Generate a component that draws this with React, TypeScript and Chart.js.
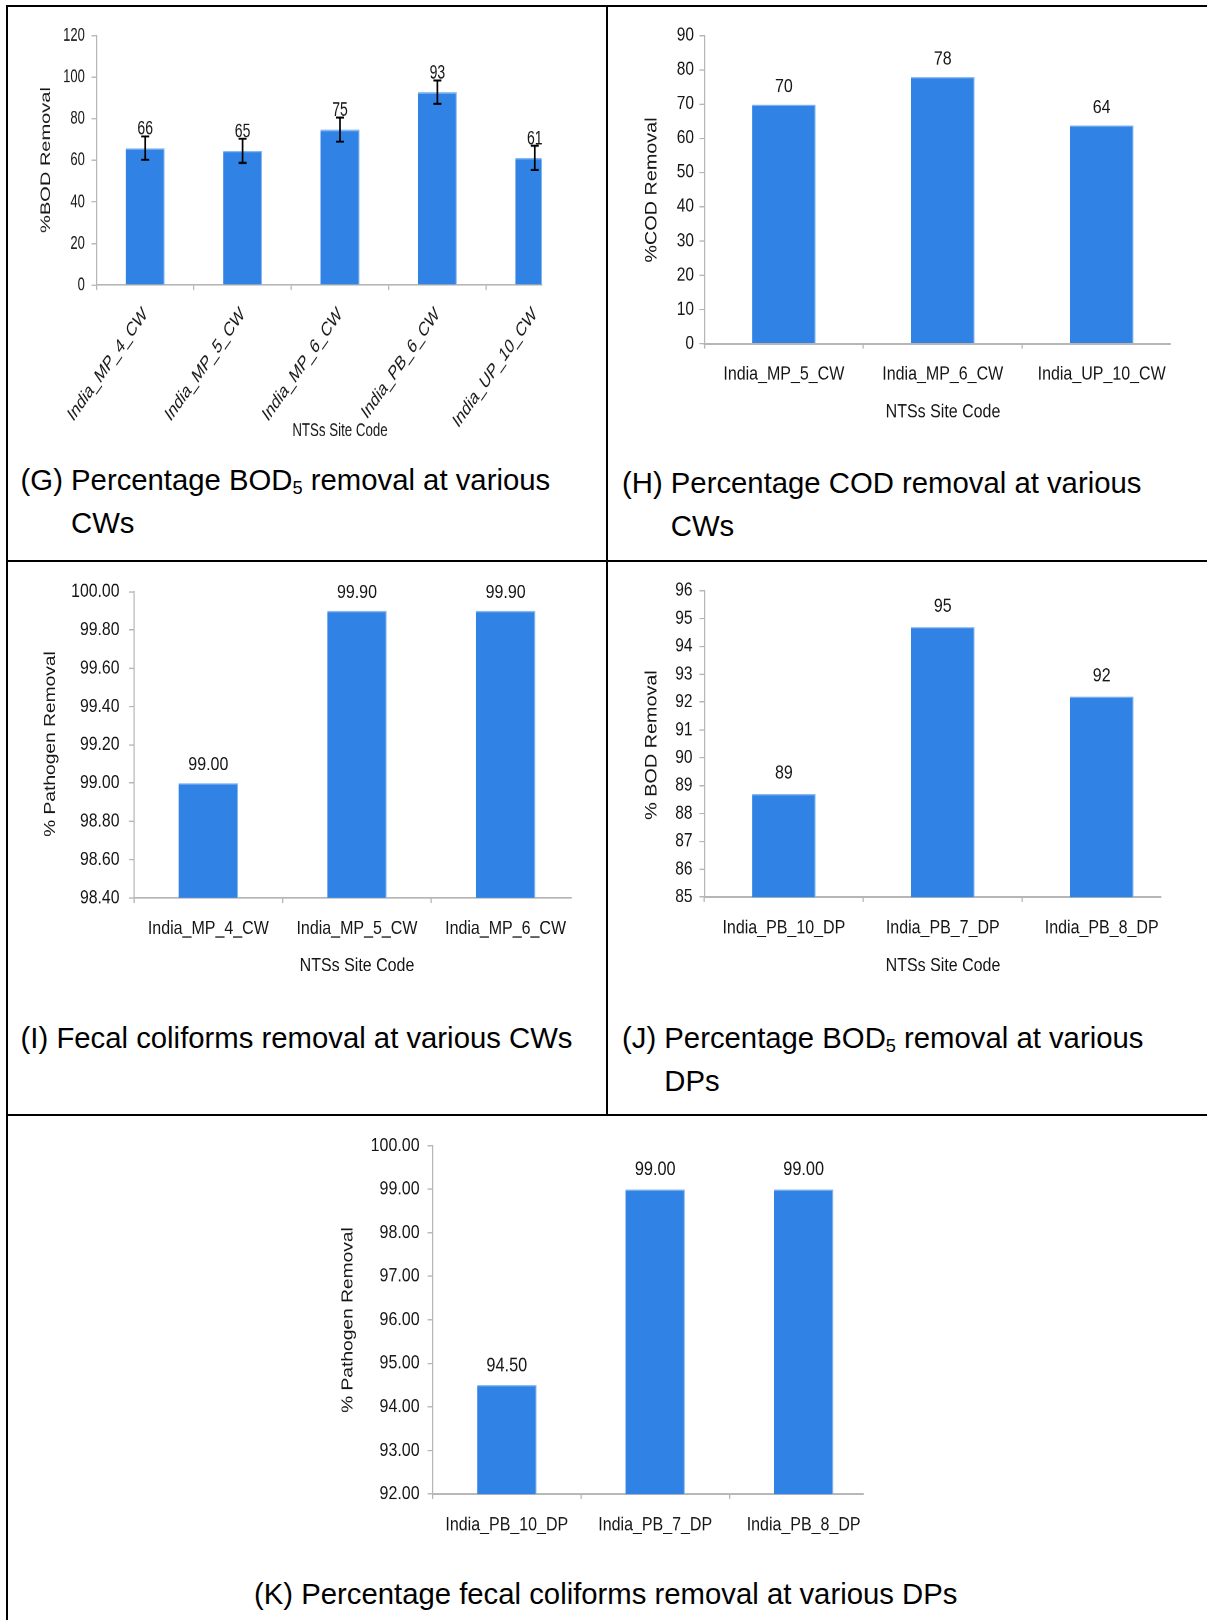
import React, { useEffect, useRef } from 'react';
import { Chart, registerables } from 'chart.js';

Chart.register(...registerables);

const FONT = "'Liberation Sans', Arial, Helvetica, sans-serif";
Chart.defaults.font.family = FONT;

const BAR_COLOR = '#3182E5';
const BAR_EDGE = '#86B7F1';
const AXIS_COLOR = '#B6B6B6';
const TEXT_COLOR = '#161616';

// ---------- (G) Percentage BOD5 removal at various CWs ----------
const G_CATEGORIES = ['India_MP_4_CW', 'India_MP_5_CW', 'India_MP_6_CW', 'India_PB_6_CW', 'India_UP_10_CW'];
const G_VALUES = [65.9, 64.6, 74.8, 92.8, 61.2];
const G_ERRORS = [5.6, 5.8, 5.8, 5.6, 5.8];
const G_Y_TICKS = [0, 20, 40, 60, 80, 100, 120];

// ---------- (H) Percentage COD removal at various CWs ----------
const H_CATEGORIES = ['India_MP_5_CW', 'India_MP_6_CW', 'India_UP_10_CW'];
const H_VALUES = [69.9, 77.9, 63.8];
const H_Y_TICKS = [0, 10, 20, 30, 40, 50, 60, 70, 80, 90];

// ---------- (I) Fecal coliforms removal at various CWs ----------
const I_CATEGORIES = ['India_MP_4_CW', 'India_MP_5_CW', 'India_MP_6_CW'];
const I_VALUES = [99.0, 99.9, 99.9];
const I_Y_TICKS = [98.4, 98.6, 98.8, 99.0, 99.2, 99.4, 99.6, 99.8, 100.0];

// ---------- (J) Percentage BOD5 removal at various DPs ----------
const J_CATEGORIES = ['India_PB_10_DP', 'India_PB_7_DP', 'India_PB_8_DP'];
const J_VALUES = [88.7, 94.7, 92.2];
const J_Y_TICKS = [85, 86, 87, 88, 89, 90, 91, 92, 93, 94, 95, 96];

// ---------- (K) Percentage fecal coliforms removal at various DPs ----------
const K_CATEGORIES = ['India_PB_10_DP', 'India_PB_7_DP', 'India_PB_8_DP'];
const K_VALUES = [94.5, 99.0, 99.0];
const K_Y_TICKS = [92, 93, 94, 95, 96, 97, 98, 99, 100];

type TitleSpec = { text: string; x: number; y: number; size: number };

type Spec = {
  id: string;
  cats: string[];
  values: number[];
  errors?: number[];
  yTicks: number[];
  tickDecimals: number;
  labelDecimals: number;
  k: number; // vertical stretch of the embedded chart picture
  box: { left: number; top: number; width: number; height: number };
  area: { l: number; t: number; r: number; b: number };
  xMax: number;
  yTickSize: number;
  yTickPad: number;
  xLabelSize: number;
  xLabelPad: number;
  xRotation: number;
  valueSize: number;
  valueOffset: number;
  yTitle: TitleSpec;
  xTitle?: TitleSpec;
};

const SPECS: Spec[] = [
  {
    id: 'G', cats: G_CATEGORIES, values: G_VALUES, errors: G_ERRORS, yTicks: G_Y_TICKS,
    tickDecimals: 0, labelDecimals: 0, k: 1.43,
    box: { left: 10, top: 10, width: 594, height: 440 },
    area: { l: 96.5, t: 35.7, r: 541.6, b: 285 },
    xMax: 4.07, yTickSize: 13, yTickPad: 6.7, xLabelSize: 14, xLabelPad: 9, xRotation: 45,
    valueSize: 14, valueOffset: 19,
    yTitle: { text: '%BOD Removal', x: 46, y: 160, size: 14 },
    xTitle: { text: 'NTSs Site Code', x: 340, y: 431, size: 13.3 },
  },
  {
    id: 'H', cats: H_CATEGORIES, values: H_VALUES, yTicks: H_Y_TICKS,
    tickDecimals: 0, labelDecimals: 0, k: 1.2,
    box: { left: 610, top: 10, width: 594, height: 440 },
    area: { l: 704.4, t: 35.7, r: 1170, b: 343.6 },
    xMax: 2.43, yTickSize: 15.5, yTickPad: 5.4, xLabelSize: 16, xLabelPad: 12, xRotation: 0,
    valueSize: 16, valueOffset: 17.6,
    yTitle: { text: '%COD Removal', x: 652, y: 190, size: 16.5 },
    xTitle: { text: 'NTSs Site Code', x: 943, y: 412, size: 16 },
  },
  {
    id: 'I', cats: I_CATEGORIES, values: I_VALUES, yTicks: I_Y_TICKS,
    tickDecimals: 2, labelDecimals: 2, k: 1.2,
    box: { left: 10, top: 565, width: 594, height: 440 },
    area: { l: 134, t: 591.8, r: 571, b: 897.9 },
    xMax: 2.44, yTickSize: 15.8, yTickPad: 9.5, xLabelSize: 16, xLabelPad: 12, xRotation: 0,
    valueSize: 16, valueOffset: 18.5,
    yTitle: { text: '% Pathogen Removal', x: 50.6, y: 744, size: 16 },
    xTitle: { text: 'NTSs Site Code', x: 357, y: 966, size: 16 },
  },
  {
    id: 'J', cats: J_CATEGORIES, values: J_VALUES, yTicks: J_Y_TICKS,
    tickDecimals: 0, labelDecimals: 0, k: 1.2,
    box: { left: 610, top: 565, width: 594, height: 440 },
    area: { l: 704.4, t: 590.7, r: 1160.5, b: 897.1 },
    xMax: 2.37, yTickSize: 15.5, yTickPad: 6.9, xLabelSize: 16, xLabelPad: 12, xRotation: 0,
    valueSize: 16, valueOffset: 20.5,
    yTitle: { text: '% BOD Removal', x: 652, y: 745, size: 16.5 },
    xTitle: { text: 'NTSs Site Code', x: 943, y: 966, size: 16 },
  },
  {
    id: 'K', cats: K_CATEGORIES, values: K_VALUES, yTicks: K_Y_TICKS,
    tickDecimals: 2, labelDecimals: 2, k: 1.2,
    box: { left: 300, top: 1120, width: 600, height: 440 },
    area: { l: 432.6, t: 1145.7, r: 863, b: 1494 },
    xMax: 2.4, yTickSize: 16, yTickPad: 8, xLabelSize: 16, xLabelPad: 12, xRotation: 0,
    valueSize: 16.3, valueOffset: 19.2,
    yTitle: { text: '% Pathogen Removal', x: 348, y: 1320, size: 16 },
  },
];

function buildConfig(spec: Spec, hInt: number): any {
  const k = spec.k;
  const iy = (py: number) => (py - spec.box.top) / k;
  const ix = (px: number) => px - spec.box.left;
  const areaTop = iy(spec.area.t);
  const areaBottom = iy(spec.area.b);
  const areaLeft = ix(spec.area.l);
  const areaRight = ix(spec.area.r);

  const decor = {
    id: 'decor' + spec.id,
    afterDatasetsDraw(chart: any) {
      const ctx: CanvasRenderingContext2D = chart.ctx;
      const meta = chart.getDatasetMeta(0);
      const yScale = chart.scales.y;
      ctx.save();
      if (spec.errors) {
        ctx.strokeStyle = '#000000';
        meta.data.forEach((bar: any, i: number) => {
          const v = spec.values[i];
          const e = spec.errors![i];
          const yTop = yScale.getPixelForValue(v + e);
          const yBot = yScale.getPixelForValue(v - e);
          ctx.lineWidth = 1.7;
          ctx.beginPath();
          ctx.moveTo(bar.x, yTop);
          ctx.lineTo(bar.x, yBot);
          ctx.stroke();
          ctx.lineWidth = 2 / k;
          ctx.beginPath();
          ctx.moveTo(bar.x - 4, yTop);
          ctx.lineTo(bar.x + 4, yTop);
          ctx.moveTo(bar.x - 4, yBot);
          ctx.lineTo(bar.x + 4, yBot);
          ctx.stroke();
        });
      }
      ctx.fillStyle = TEXT_COLOR;
      ctx.font = `${spec.valueSize}px ${FONT}`;
      ctx.textAlign = 'center';
      ctx.textBaseline = 'middle';
      meta.data.forEach((bar: any, i: number) => {
        ctx.fillText(spec.values[i].toFixed(spec.labelDecimals), bar.x, bar.y - spec.valueOffset / k);
      });
      ctx.restore();
    },
    afterDraw(chart: any) {
      const ctx: CanvasRenderingContext2D = chart.ctx;
      ctx.save();
      ctx.fillStyle = TEXT_COLOR;
      ctx.textAlign = 'center';
      ctx.textBaseline = 'middle';
      const yt = spec.yTitle;
      ctx.font = `${yt.size}px ${FONT}`;
      ctx.translate(ix(yt.x), iy(yt.y));
      ctx.rotate(-Math.PI / 2);
      ctx.fillText(yt.text, 0, 0);
      ctx.restore();
      if (spec.xTitle) {
        const xt = spec.xTitle;
        ctx.save();
        ctx.fillStyle = TEXT_COLOR;
        ctx.textAlign = 'center';
        ctx.textBaseline = 'middle';
        ctx.font = `${xt.size}px ${FONT}`;
        ctx.fillText(xt.text, ix(xt.x), iy(xt.y));
        ctx.restore();
      }
    },
  };

  return {
    type: 'bar',
    data: {
      datasets: [
        {
          data: spec.values.map((v, i) => ({ x: i, y: v })),
          backgroundColor: BAR_COLOR,
          borderColor: BAR_EDGE,
          borderWidth: { top: 1, right: 1, left: 0, bottom: 0 },
          borderSkipped: 'start',
          categoryPercentage: 1,
          barPercentage: 0.4,
          clip: 0,
        },
      ],
    },
    options: {
      animation: false,
      responsive: false,
      devicePixelRatio: 2,
      events: [],
      layout: { padding: { top: areaTop, left: 0, right: spec.box.width - areaRight, bottom: 0 } },
      plugins: {
        legend: { display: false },
        tooltip: { enabled: false },
        title: { display: false },
      },
      scales: {
        x: {
          type: 'linear',
          min: -0.5,
          max: spec.xMax,
          offset: false,
          afterBuildTicks: (s: any) => {
            s.ticks = spec.cats.map((_c, i) => ({ value: i }));
          },
          afterFit: (s: any) => {
            s.height = hInt - areaBottom;
          },
          ticks: {
            autoSkip: false,
            minRotation: spec.xRotation,
            maxRotation: spec.xRotation,
            padding: spec.xLabelPad,
            color: TEXT_COLOR,
            font: { size: spec.xLabelSize, family: FONT },
            callback: (_v: any, i: number) => spec.cats[i],
          },
          grid: {
            display: true,
            offset: true,
            drawOnChartArea: false,
            drawTicks: true,
            tickLength: 5 / k,
            color: AXIS_COLOR,
            lineWidth: 1.3,
          },
          border: { display: true, color: AXIS_COLOR, width: 1.8 / k },
        },
        y: {
          type: 'linear',
          min: spec.yTicks[0],
          max: spec.yTicks[spec.yTicks.length - 1],
          afterBuildTicks: (s: any) => {
            s.ticks = spec.yTicks.map((v) => ({ value: v }));
          },
          afterFit: (s: any) => {
            s.width = areaLeft;
          },
          ticks: {
            padding: spec.yTickPad,
            color: TEXT_COLOR,
            font: { size: spec.yTickSize, family: FONT },
            callback: (v: any) => Number(v).toFixed(spec.tickDecimals),
          },
          grid: {
            display: true,
            drawOnChartArea: false,
            drawTicks: true,
            tickLength: 5,
            color: AXIS_COLOR,
            lineWidth: 1.3 / k,
          },
          border: { display: true, color: AXIS_COLOR, width: 1.2 },
        },
      },
    },
    plugins: [decor],
  };
}

function BarPanel({ spec }: { spec: Spec }) {
  const ref = useRef<HTMLCanvasElement>(null);
  const hInt = Math.round(spec.box.height / spec.k);
  useEffect(() => {
    if (!ref.current) return;
    const chart = new Chart(ref.current, buildConfig(spec, hInt));
    return () => chart.destroy();
  }, []);
  return (
    <div
      style={{
        position: 'absolute',
        left: spec.box.left,
        top: spec.box.top,
        width: spec.box.width,
        height: hInt,
        transform: `scaleY(${spec.k})`,
        transformOrigin: '0 0',
      }}
    >
      <canvas ref={ref} width={spec.box.width} height={hInt} style={{ display: 'block' }} />
    </div>
  );
}

function Caption({ left, top, label, children }: { left: number; top: number; label: string; children: React.ReactNode }) {
  return (
    <div
      style={{
        position: 'absolute',
        left,
        top,
        display: 'flex',
        fontFamily: FONT,
        fontSize: 29.3,
        lineHeight: '43.4px',
        color: '#000',
        whiteSpace: 'nowrap',
      }}
    >
      <span>{label}{'\u00a0'}</span>
      <span>{children}</span>
    </div>
  );
}

const Sub5 = () => (
  <span style={{ fontSize: '0.62em', lineHeight: 0, position: 'relative', top: '0.22em' }}>5</span>
);

const line = (left: number, top: number, width: number, height: number) => (
  <div style={{ position: 'absolute', left, top, width, height, background: '#000' }} />
);

export default function App() {
  return (
    <div
      style={{
        position: 'absolute',
        left: 0,
        top: 0,
        width: 1207,
        height: 1620,
        overflow: 'hidden',
        background: '#fff',
      }}
    >
      {line(6, 5, 1201, 2)}
      {line(6, 5, 2, 1615)}
      {line(606, 5, 2, 1111)}
      {line(6, 560, 1201, 2)}
      {line(6, 1114, 1201, 2)}
      {SPECS.map((s) => (
        <BarPanel key={s.id} spec={s} />
      ))}
      <Caption left={20.6} top={458} label="(G)">
        Percentage BOD<Sub5 /> removal at various
        <br />
        CWs
      </Caption>
      <Caption left={622} top={461} label="(H)">
        Percentage COD removal at various
        <br />
        CWs
      </Caption>
      <Caption left={20.6} top={1016} label="(I)">
        Fecal coliforms removal at various CWs
      </Caption>
      <Caption left={622} top={1016} label="(J)">
        Percentage BOD<Sub5 /> removal at various
        <br />
        DPs
      </Caption>
      <Caption left={254} top={1572} label="(K)">
        Percentage fecal coliforms removal at various DPs
      </Caption>
    </div>
  );
}
